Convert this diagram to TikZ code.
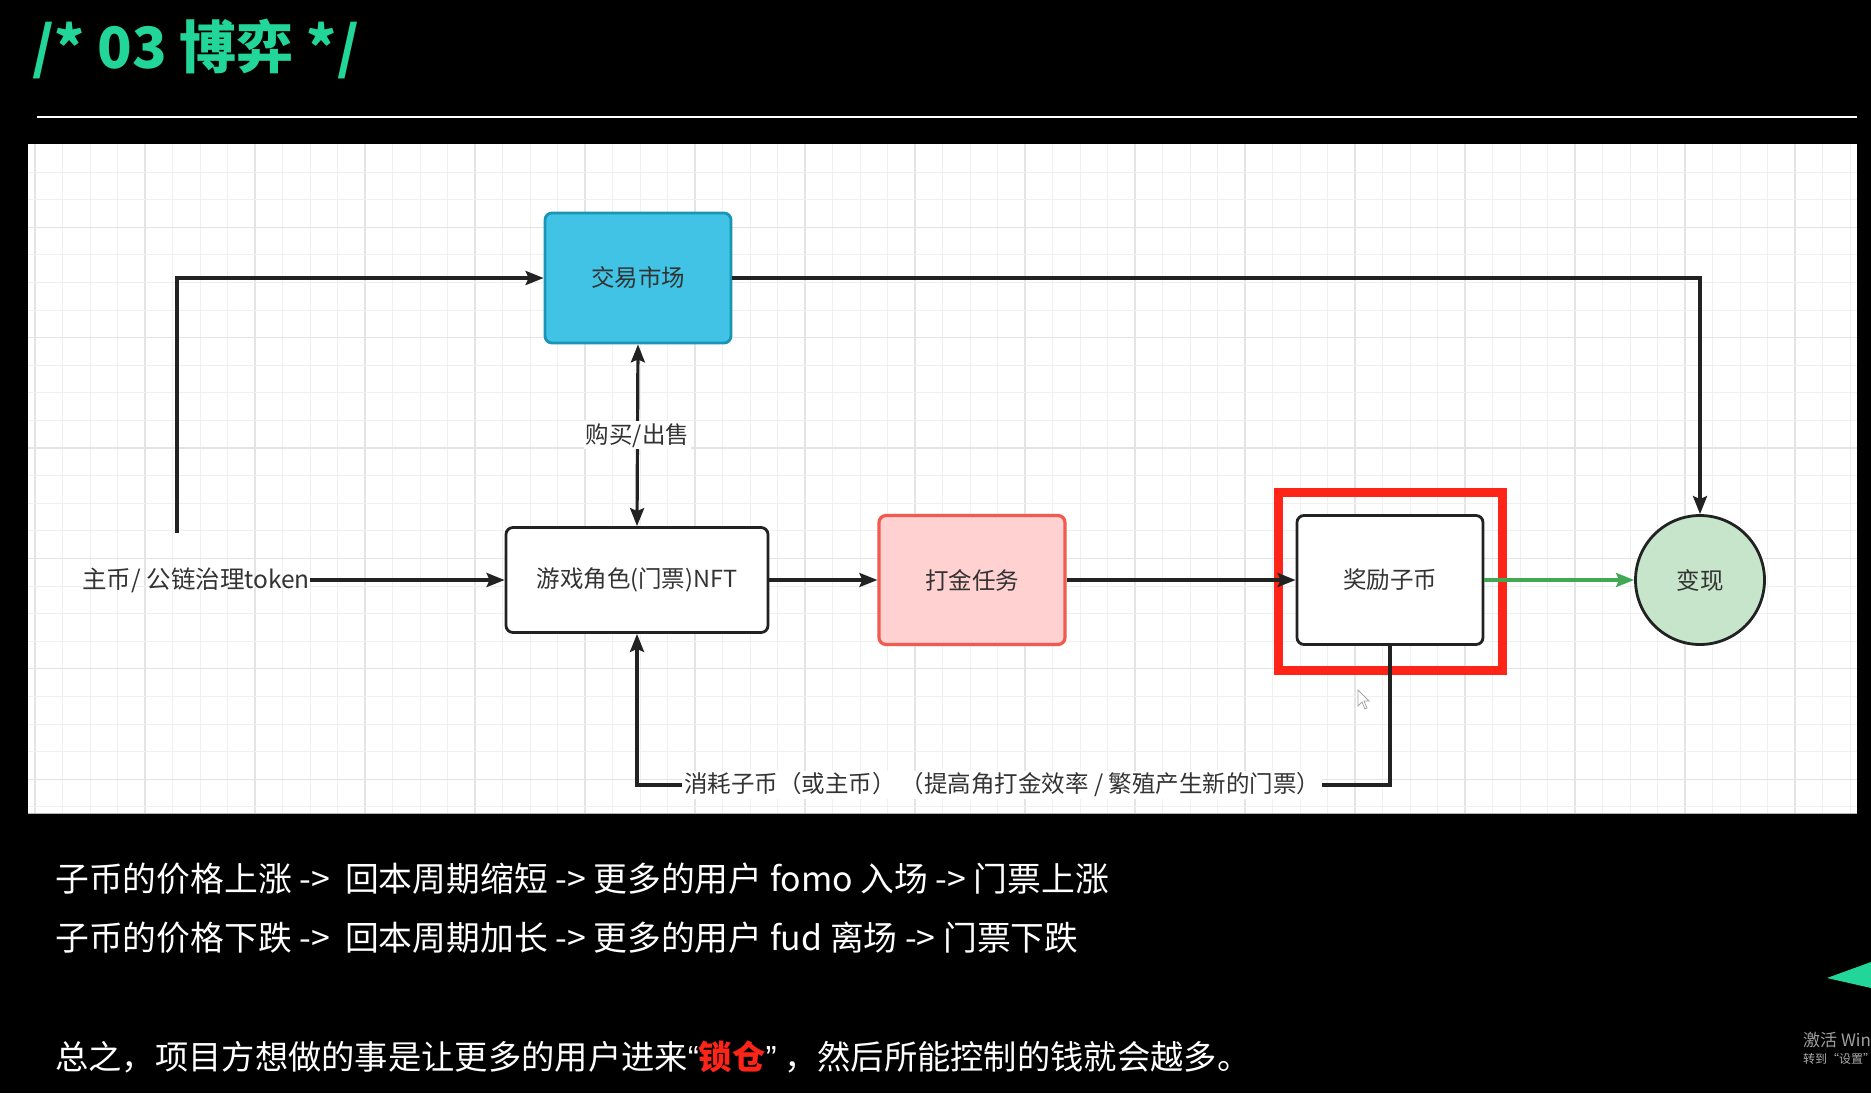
\documentclass[tikz,border=0pt]{standalone}
\usepackage{fontspec}
\setmainfont{Noto Sans CJK SC}
\newfontfamily\quotefont{Liberation Sans}
\usetikzlibrary{arrows.meta}

\definecolor{titlegreen}{HTML}{22D69A}
\definecolor{linedark}{HTML}{222222}
\definecolor{txt}{HTML}{333333}
\definecolor{mktfill}{HTML}{40C3E5}
\definecolor{mktdraw}{HTML}{1A95B6}
\definecolor{taskfill}{HTML}{FFD1D0}
\definecolor{taskdraw}{HTML}{F25A4F}
\definecolor{cashfill}{HTML}{C6E5CB}
\definecolor{hilite}{HTML}{FF2418}
\definecolor{okgreen}{HTML}{43A853}
\definecolor{gridminor}{HTML}{F0F0F0}
\definecolor{gridmajor}{HTML}{E4E4E4}

\newcommand\diafont{\fontsize{23.5}{28}\selectfont}
\newcommand\notefont{\fontsize{33.8}{40}\selectfont}

\tikzset{
  box/.style={draw=linedark, line width=2.8pt, rounded corners=7pt, inner sep=0pt,
              font=\diafont, text=txt, align=center},
  link/.style={draw=linedark, line width=3.2pt, -{Stealth[length=18pt,width=14pt,inset=3pt]}},
  twoway/.style={draw=linedark, line width=3.2pt,
                 {Stealth[length=18pt,width=14pt,inset=3pt]}-{Stealth[length=18pt,width=14pt,inset=3pt]}},
  edgelabel/.style={fill=white, inner sep=2pt, font=\diafont, text=txt},
  note/.style={anchor=west, inner sep=0pt, font=\notefont, text=white},
}

\begin{document}
\begin{tikzpicture}[x=1pt,y=-1pt]
\useasboundingbox (0,0) rectangle (1871,1093);
\fill[black] (0,0) rectangle (1871,1093);

% heading and rule
\node[anchor=base west, inner sep=0pt, text=titlegreen,
      font=\fontsize{57}{62}\selectfont\bfseries] (title) at (32,68) {/* 03 博弈 */};
\draw[white, line width=2.5pt] (37,117) -- (1857,117);

% drawing canvas with grid
\fill[white] (28,144) rectangle (1857,813);
\begin{scope}
  \clip (28,144) rectangle (1857,813);
  \foreach \i in {0,...,66} {
    \pgfmathsetmacro\gx{35+27.5*\i}
    \pgfmathtruncatemacro\gm{mod(\i,4)}
    \ifnum\gm=0
      \draw[gridmajor, line width=1.2pt] (\gx,144) -- (\gx,813);
    \else
      \draw[gridminor, line width=1pt] (\gx,144) -- (\gx,813);
    \fi
  }
  \foreach \j in {0,...,23} {
    \pgfmathsetmacro\gy{172+27.6*\j}
    \pgfmathtruncatemacro\gm{mod(\j,4)}
    \ifnum\gm=2
      \draw[gridmajor, line width=1.2pt] (28,\gy) -- (1857,\gy);
    \else
      \draw[gridminor, line width=1pt] (28,\gy) -- (1857,\gy);
    \fi
  }
\end{scope}
\draw[gray!60, line width=1pt] (28,813) -- (1857,813);

% nodes
\node[box, draw=mktdraw, fill=mktfill, minimum width=186pt, minimum height=130pt] (mkt) at (638,278) {交易市场};
\node[box, fill=white, minimum width=262pt, minimum height=105pt] (nft) at (637,580) {游戏角色(门票)NFT};
\node[box, draw=taskdraw, fill=taskfill, line width=3.2pt, minimum width=186pt, minimum height=129pt] (task) at (972,580) {打金任务};
\node[box, fill=white, minimum width=186pt, minimum height=129pt] (reward) at (1390,580) {奖励子币};
\node[draw=hilite, line width=9pt, minimum width=224pt, minimum height=178pt, inner sep=0pt] (focus) at (1390,581) {};
\node[circle, draw=linedark, line width=2.8pt, fill=cashfill, minimum size=129pt, inner sep=0pt,
      font=\diafont, text=txt] (cash) at (1700,580) {变现};
\node[anchor=east, inner sep=0pt, font=\fontsize{24.5}{28}\selectfont, text=txt] (src) at (310,580) {主币/ 公链治理token};

% connectors
\coordinate (rise) at (177,533);
\draw[link] (src.east) -- (nft.west);
\draw[link] (rise) |- (mkt.west);
\draw[link] (mkt.east) -| (cash.north);
\draw[twoway] (mkt.south) -- node[edgelabel, pos=0.5] (trade) {购买/出售} (nft.north);
\draw[link] (nft.east) -- (task.west);
\draw[link] (task.east) -- (reward.west);
\draw[link, draw=okgreen, fill=okgreen] (reward.east) -- (cash.west);
\coordinate (loopR) at (1390,785);
\coordinate (loopL) at (637,785);
\draw[link] (reward.south) -- (loopR) -- node[edgelabel, pos=0.515] (spend)
  {消耗子币（或主币） （提高角打金效率 / 繁殖产生新的门票）} (loopL) -- (nft.south);

% mouse pointer
\draw[gray!70, line width=0.8pt, fill=white] (1358,690) -- (1358,706) -- (1362,702) -- (1365,709)
  -- (1367,708) -- (1364,701) -- (1369,701) -- cycle;

% notes below the canvas
\node[note] (up) at (55,879) {子币的价格上涨 -\kern0pt>\ \ 回本周期缩短 -\kern0pt> 更多的用户 fomo 入场 -\kern0pt> 门票上涨};
\node[note] (down) at (55,938) {子币的价格下跌 -\kern0pt>\ \ 回本周期加长 -\kern0pt> 更多的用户 fud 离场 -\kern0pt> 门票下跌};
\node[note, font=\fontsize{33.3}{40}\selectfont] (sum) at (55,1057)
  {总之，项目方想做的事是让更多的用户进来{\quotefont “}\textcolor{hilite}{\bfseries 锁仓}{\quotefont ”}\ ，然后所能控制的钱就会越多。};

% right edge: slide ornament and system overlay text
\begin{scope}
  \clip (0,0) rectangle (1871,1093);
  \fill[titlegreen] (1827,978) -- (1871,962) -- (1871,988) -- cycle;
  \node[anchor=west, inner sep=0pt, text=gray!75, font=\fontsize{17}{20}\selectfont] (act) at (1803,1040) {激活 Windows};
  \node[anchor=west, inner sep=0pt, text=gray!65, font=\fontsize{12}{14}\selectfont] (act2) at (1803,1059) {转到“设置”以激活 Windows。};
\end{scope}
\end{tikzpicture}
\end{document}
